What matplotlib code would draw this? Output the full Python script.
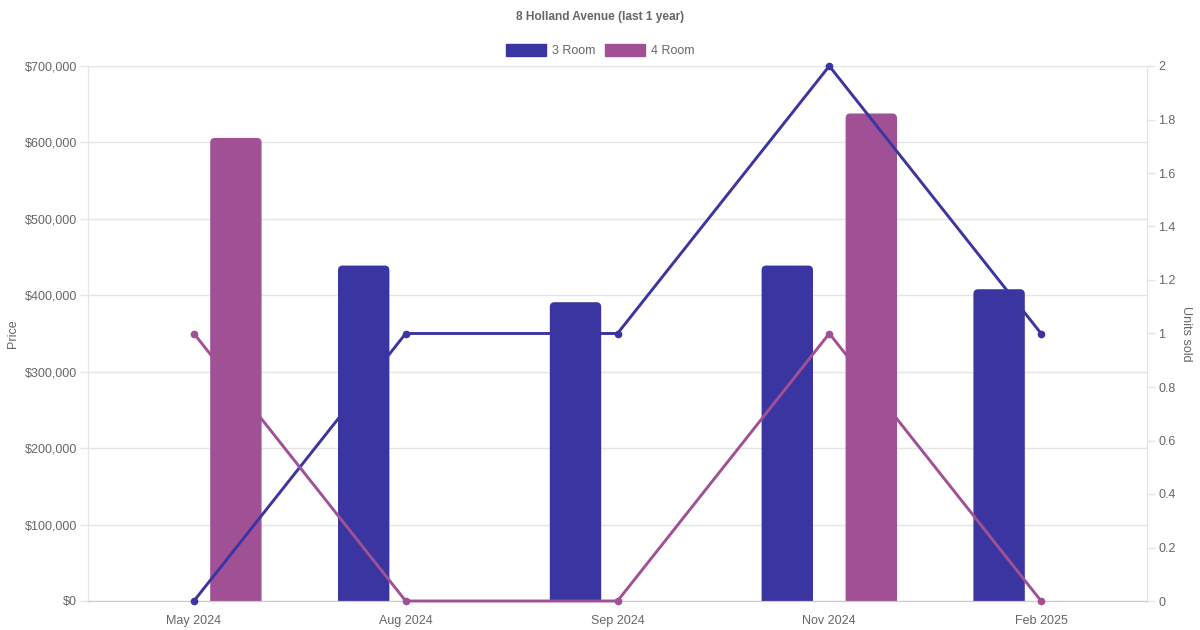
import matplotlib.pyplot as plt
from matplotlib.patches import FancyBboxPatch, Rectangle
from matplotlib.ticker import FuncFormatter, MultipleLocator

plt.rcParams['font.family'] = ['Liberation Sans', 'DejaVu Sans']

# Data
months = ["May 2024", "Aug 2024", "Sep 2024", "Nov 2024", "Feb 2025"]
price_3room = [None, 438000, 390000, 438000, 407000]
price_4room = [605000, None, None, 637000, None]
units_3room = [0, 1, 1, 2, 1]
units_4room = [1, 0, 0, 1, 0]

c3 = "#3a35a0"
c4 = "#a05195"
grid_c = "#e5e5e5"
text_c = "#666666"

W, H = 1200, 630
fig = plt.figure(figsize=(12, 6.3), dpi=100)
L, R, T, B = 88, 1147, 66, 601
ax = fig.add_axes([L / W, (H - B) / H, (R - L) / W, (B - T) / H])
ax2 = ax.twinx()

ax.set_xlim(-0.5, len(months) - 0.5)
ax.set_ylim(0, 700000)
ax2.set_ylim(0, 2)

# pixel -> data scales, for rounded bar corners
px_x = (len(months)) / (R - L)
px_y = 700000 / (B - T)
bar_w = 50 * px_x
offset = 42 * px_x
rad = 4 * px_x
aspect = px_y / px_x

for i, (p3, p4) in enumerate(zip(price_3room, price_4room)):
    for val, dx, col in [(p3, -offset, c3), (p4, offset, c4)]:
        if val is None:
            continue
        x0 = i + dx - bar_w / 2
        bottom = -rad * aspect * 2
        patch = FancyBboxPatch((x0, bottom), bar_w, val - bottom,
                               boxstyle=f"round,pad=0,rounding_size={rad}",
                               mutation_aspect=aspect,
                               facecolor=col, edgecolor=col, linewidth=1,
                               zorder=2)
        ax.add_patch(patch)

x = list(range(len(months)))
ax2.plot(x, units_3room, color=c3, lw=2.1, marker='o', ms=4.5, zorder=3, clip_on=False)
ax2.plot(x, units_4room, color=c4, lw=2.1, marker='o', ms=4.5, zorder=3, clip_on=False)

# axes styling
ax.yaxis.set_major_locator(MultipleLocator(100000))
ax.yaxis.set_major_formatter(FuncFormatter(lambda v, p: f"${v:,.0f}"))
ax2.yaxis.set_major_locator(MultipleLocator(0.2))
ax2.yaxis.set_major_formatter(FuncFormatter(lambda v, p: f"{v:.1f}".rstrip('0').rstrip('.') if v else "0"))
ax.set_xticks(x)
ax.set_xticklabels(months)

ax.grid(axis='y', color=grid_c, lw=1)
ax.set_axisbelow(True)
for a in (ax, ax2):
    for s in a.spines.values():
        s.set_color(grid_c)
    a.spines['top'].set_visible(False)
    a.tick_params(colors=text_c, labelsize=9, length=6, width=1)
    a.tick_params(axis='y', color=grid_c)
ax2.spines['bottom'].set_color("#cccccc")
ax.spines['bottom'].set_color("#cccccc")
ax.tick_params(axis='x', length=0, pad=10)
ax.tick_params(axis='y', pad=2)
ax2.tick_params(axis='y', pad=2)

ax.set_ylabel("Price", color=text_c, fontsize=9, labelpad=4)
ax2.set_ylabel("Units sold", color=text_c, fontsize=9, rotation=270, labelpad=12)

fig.text(600 / W, 1 - 17 / H, "8 Holland Avenue (last 1 year)", ha='center', va='center',
         fontsize=8.6, fontweight='bold', color=text_c)

# legend
for lx, col, lab in [(506, c3, "3 Room"), (605, c4, "4 Room")]:
    fig.add_artist(Rectangle((lx / W, 1 - 56 / H), 40 / W, 12 / H,
                             transform=fig.transFigure, facecolor=col,
                             edgecolor=col, lw=1))
    fig.text((lx + 46) / W, 1 - 51 / H, lab, ha='left', va='center',
             fontsize=9, color=text_c)

fig.savefig("out.png", dpi=100)
